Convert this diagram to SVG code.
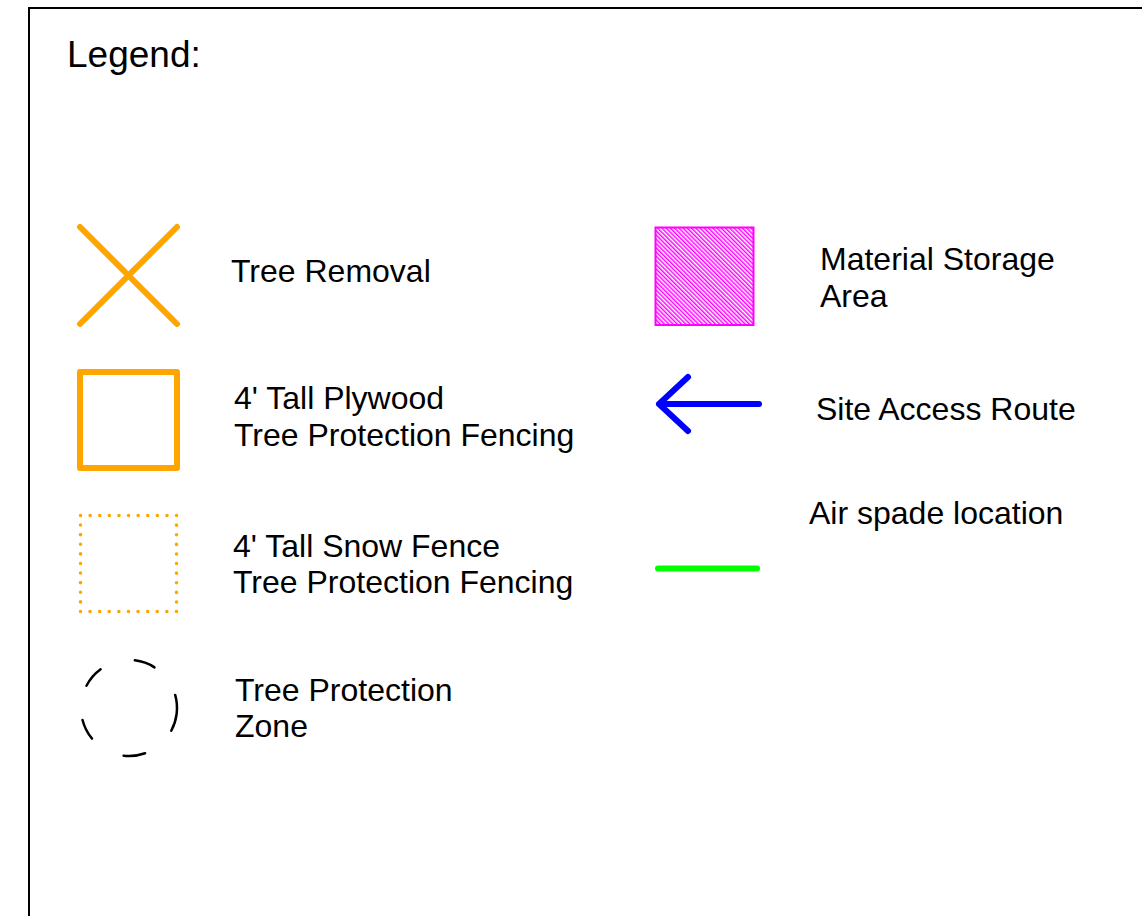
<svg xmlns="http://www.w3.org/2000/svg" width="1142" height="916" viewBox="0 0 1142 916">
  <style>
    .t { font-family: "Liberation Sans", Arial, sans-serif; font-size: 32px; fill: #000; }
    .h { font-family: "Liberation Sans", Arial, sans-serif; font-size: 37px; fill: #000; }
    .orange { stroke: #FFA500; fill: none; stroke-linecap: round; stroke-linejoin: round; }
  </style>
  <defs>
    <pattern id="hatch" patternUnits="userSpaceOnUse" width="3" height="3" patternTransform="rotate(-45)">
      <rect width="3" height="3" fill="#ffffff"/>
      <line x1="0.75" y1="0" x2="0.75" y2="3" stroke="#FF00FF" stroke-width="1.5"/>
    </pattern>
  </defs>
  <rect width="1142" height="916" fill="#ffffff"/>
  <g id="frame">
    <path d="M29 916 V8 H1142" fill="none" stroke="#000" stroke-width="2"/>
  </g>
  <g id="title">
    <text class="h" x="67" y="67">Legend:</text>
  </g>
  <g id="tree-removal">
    <line class="orange" x1="80" y1="227" x2="177" y2="324" stroke-width="6"/>
    <line class="orange" x1="177" y1="227" x2="80" y2="324" stroke-width="6"/>
    <text class="t" x="231" y="282">Tree Removal</text>
  </g>
  <g id="plywood-fencing">
    <rect class="orange" x="80" y="372" width="97" height="96" stroke-width="6"/>
    <text class="t" x="234" y="409">4' Tall Plywood</text>
    <text class="t" x="234" y="446">Tree Protection Fencing</text>
  </g>
  <g id="snow-fence">
    <rect class="orange" x="80.5" y="515.5" width="96" height="96" stroke-width="3.5" stroke-dasharray="0.1 9.5"/>
    <text class="t" x="233" y="557">4' Tall Snow Fence</text>
    <text class="t" x="233" y="593">Tree Protection Fencing</text>
  </g>
  <g id="tree-protection-zone">
    <circle cx="129" cy="708" r="48" fill="none" stroke="#000" stroke-width="2.5" stroke-linecap="round" stroke-dasharray="21 35.2 36.9 35.2 21.8 36.8 21 35.2 21.8 36.8" transform="rotate(-83 129 708)"/>
    <text class="t" x="235" y="701">Tree Protection</text>
    <text class="t" x="235" y="737">Zone</text>
  </g>
  <g id="material-storage">
    <rect x="655.5" y="227.5" width="98" height="97.5" fill="url(#hatch)" stroke="#FF00FF" stroke-width="2"/>
    <text class="t" x="820" y="270">Material Storage</text>
    <text class="t" x="820" y="307">Area</text>
  </g>
  <g id="site-access">
    <path d="M759 404 H659 M688 377 L659 404 L688 431" fill="none" stroke="#0000FF" stroke-width="6" stroke-linecap="round" stroke-linejoin="round"/>
    <text class="t" x="816" y="420">Site Access Route</text>
  </g>
  <g id="air-spade">
    <line x1="658" y1="568.5" x2="757" y2="568.5" stroke="#00FF00" stroke-width="6" stroke-linecap="round"/>
    <text class="t" x="809" y="524">Air spade location</text>
  </g>
</svg>
